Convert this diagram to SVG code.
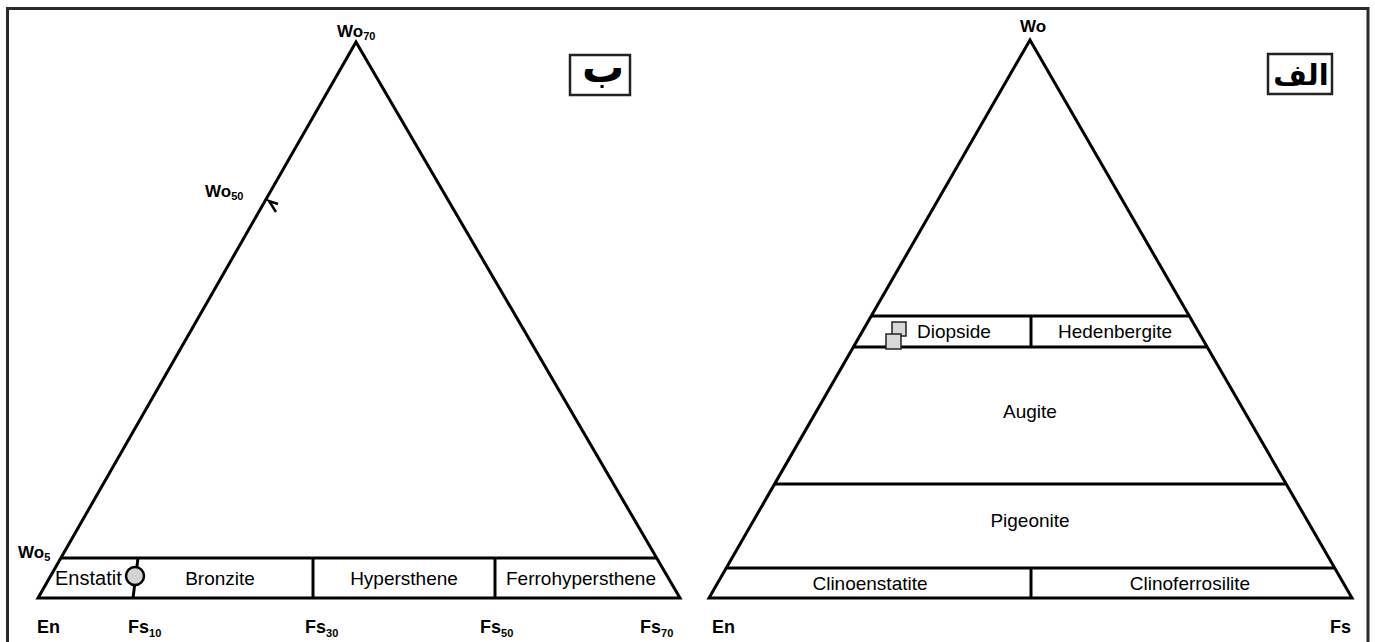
<svg xmlns="http://www.w3.org/2000/svg" width="1375" height="642" viewBox="0 0 1375 642">
<style>
.ln{stroke:#000;stroke-width:3;fill:none;stroke-linejoin:miter}
.t{font-family:"Liberation Sans",Arial,sans-serif;font-size:19px;fill:#000}
.b{font-family:"Liberation Sans",Arial,sans-serif;font-size:18px;font-weight:bold;fill:#000}
.w{font-family:"Liberation Sans",Arial,sans-serif;font-size:17px;font-weight:bold;fill:#000}
.s{font-size:11px}
.ar{font-family:"DejaVu Sans",sans-serif;font-weight:bold;fill:#000}
.box{fill:#fff;stroke:#222;stroke-width:2.5}
</style>
<rect width="1375" height="642" fill="#fff"/>
<path d="M7.5,650 V8.5 H1368 V650" fill="none" stroke="#2a2a2a" stroke-width="3"/>

<g id="left-triangle">
<polygon class="ln" points="356,42 38,598 680,598"/>
<line class="ln" x1="61" y1="558" x2="657" y2="558"/>
<line class="ln" x1="138" y1="558" x2="133" y2="598"/>
<line class="ln" x1="313" y1="558" x2="313" y2="598"/>
<line class="ln" x1="495" y1="558" x2="495" y2="598"/>
<polyline class="ln" points="278,204 269,201 276,212" style="stroke-width:2.5"/>
</g>
<g id="left-point">
<circle cx="135" cy="576" r="9" fill="#d4d4d4" stroke="#000" stroke-width="2.5"/>
</g>
<g id="left-labels">
<text class="t" x="55" y="585" style="font-size:20px">Enstatit</text>
<text class="t" x="220" y="585" text-anchor="middle">Bronzite</text>
<text class="t" x="404" y="585" text-anchor="middle">Hypersthene</text>
<text class="t" x="581" y="585" text-anchor="middle">Ferrohypersthene</text>
<text class="w" x="337" y="37">Wo<tspan class="s" dy="3">70</tspan></text>
<text class="w" x="205" y="197">Wo<tspan class="s" dy="3">50</tspan></text>
<text class="w" x="18" y="558">Wo<tspan class="s" dy="3">5</tspan></text>
<text class="b" x="37" y="633">En</text>
<text class="b" x="128" y="633">Fs<tspan class="s" dy="4">10</tspan></text>
<text class="b" x="305" y="633">Fs<tspan class="s" dy="4">30</tspan></text>
<text class="b" x="480" y="633">Fs<tspan class="s" dy="4">50</tspan></text>
<text class="b" x="640" y="633">Fs<tspan class="s" dy="4">70</tspan></text>
</g>
<g id="label-b">
<rect class="box" x="570" y="55" width="60" height="40"/>
<text class="ar" x="603" y="82" text-anchor="middle" style="font-size:42px">ب</text>
</g>

<g id="right-triangle">
<polygon class="ln" points="1030,40 709,598 1352,598"/>
<line class="ln" x1="871" y1="316" x2="1189" y2="316"/>
<line class="ln" x1="853" y1="347" x2="1207" y2="347"/>
<line class="ln" x1="775" y1="484" x2="1286" y2="484"/>
<line class="ln" x1="726" y1="568" x2="1335" y2="568"/>
<line class="ln" x1="1031" y1="316" x2="1031" y2="347"/>
<line class="ln" x1="1031" y1="568" x2="1031" y2="598"/>
</g>
<g id="right-points">
<rect x="892" y="322" width="14" height="14" fill="#d8d8d8" stroke="#222" stroke-width="1.5"/>
<rect x="886" y="334" width="15" height="15" fill="#d8d8d8" stroke="#222" stroke-width="1.5"/>
</g>
<g id="right-labels">
<text class="t" x="917" y="338">Diopside</text>
<text class="t" x="1115" y="338" text-anchor="middle">Hedenbergite</text>
<text class="t" x="1030" y="418" text-anchor="middle">Augite</text>
<text class="t" x="1030" y="527" text-anchor="middle">Pigeonite</text>
<text class="t" x="870" y="590" text-anchor="middle">Clinoenstatite</text>
<text class="t" x="1190" y="590" text-anchor="middle">Clinoferrosilite</text>
<text class="w" x="1020" y="32">Wo</text>
<text class="b" x="712" y="633">En</text>
<text class="b" x="1330" y="633">Fs</text>
</g>
<g id="label-alef">
<rect class="box" x="1268" y="54" width="64" height="40"/>
<text class="ar" x="1301" y="85" text-anchor="middle" style="font-size:29px">الف</text>
</g>
</svg>
